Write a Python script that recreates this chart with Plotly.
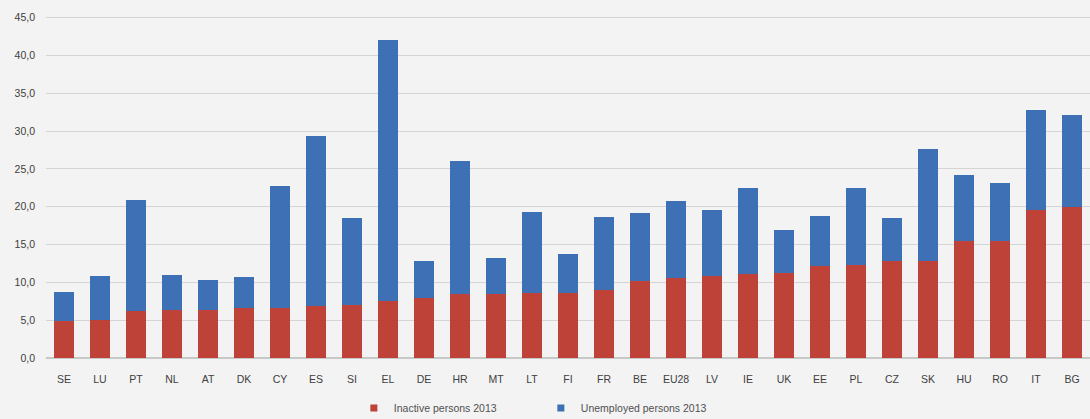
import plotly.graph_objects as go

countries = ["SE", "LU", "PT", "NL", "AT", "DK", "CY", "ES", "SI", "EL", "DE", "HR", "MT", "LT", "FI",
             "FR", "BE", "EU28", "LV", "IE", "UK", "EE", "PL", "CZ", "SK", "HU", "RO", "IT", "BG"]
inactive = [4.9, 5.0, 6.2, 6.3, 6.4, 6.6, 6.6, 6.9, 7.0, 7.5, 7.9, 8.5, 8.5, 8.6, 8.6,
            9.0, 10.2, 10.6, 10.8, 11.1, 11.2, 12.2, 12.3, 12.8, 12.8, 15.5, 15.5, 19.6, 20.0]
total = [8.7, 10.8, 20.9, 11.0, 10.3, 10.7, 22.7, 29.4, 18.5, 42.1, 12.8, 26.1, 13.2, 19.3, 13.8,
         18.7, 19.2, 20.8, 19.6, 22.5, 16.9, 18.8, 22.5, 18.5, 27.6, 24.2, 23.1, 32.8, 32.1]
unemployed = [round(t - i, 1) for t, i in zip(total, inactive)]

RED = "#be4238"
BLUE = "#3d70b4"
names = ["Inactive persons 2013", "Unemployed persons 2013"]

fig = go.Figure()
for vals, col, nm in [(inactive, RED, names[0]), (unemployed, BLUE, names[1])]:
    fig.add_trace(go.Bar(x=countries, y=vals, name=nm, showlegend=False,
                         marker=dict(color=col, line_width=0)))
# small square legend keys like the original
for col, nm in [(RED, names[0]), (BLUE, names[1])]:
    fig.add_trace(go.Scatter(x=[None], y=[None], mode="markers", name=nm,
                             marker=dict(symbol="square", size=7, color=col)))

fig.update_layout(
    barmode="stack", bargap=0.44,
    width=1090, height=419,
    paper_bgcolor="#f3f3f3", plot_bgcolor="#f3f3f3",
    separators=", ",
    font=dict(family="Liberation Sans", size=10, color="#595959"),
    margin=dict(l=46, r=0, t=0, b=61, autoexpand=False),
    showlegend=True,
    legend=dict(orientation="h", x=0.474, xanchor="center", yref="container",
                y=0.026, yanchor="middle",
                traceorder="normal", font=dict(size=10.5, color="#505050"),
                itemwidth=30, entrywidth=142, entrywidthmode="pixels",
                bgcolor="rgba(0,0,0,0)"),
)
fig.update_xaxes(range=[-0.5, 28.5], showgrid=False, showline=False, ticks="",
                 automargin=False, ticklabelstandoff=13,
                 tickfont=dict(size=10.5, color="#404040"))
fig.update_yaxes(range=[0, 47.35], dtick=5, tickformat=".1f", showgrid=True,
                 gridcolor="#d4d4d4", gridwidth=1, zeroline=True, zerolinecolor="#c8c8c8",
                 automargin=False, ticklabelstandoff=10,
                 tickfont=dict(size=10.5, color="#404040"))

fig.write_html("out.html", config={"displayModeBar": False},
               post_script="document.body.style.margin='0';")
